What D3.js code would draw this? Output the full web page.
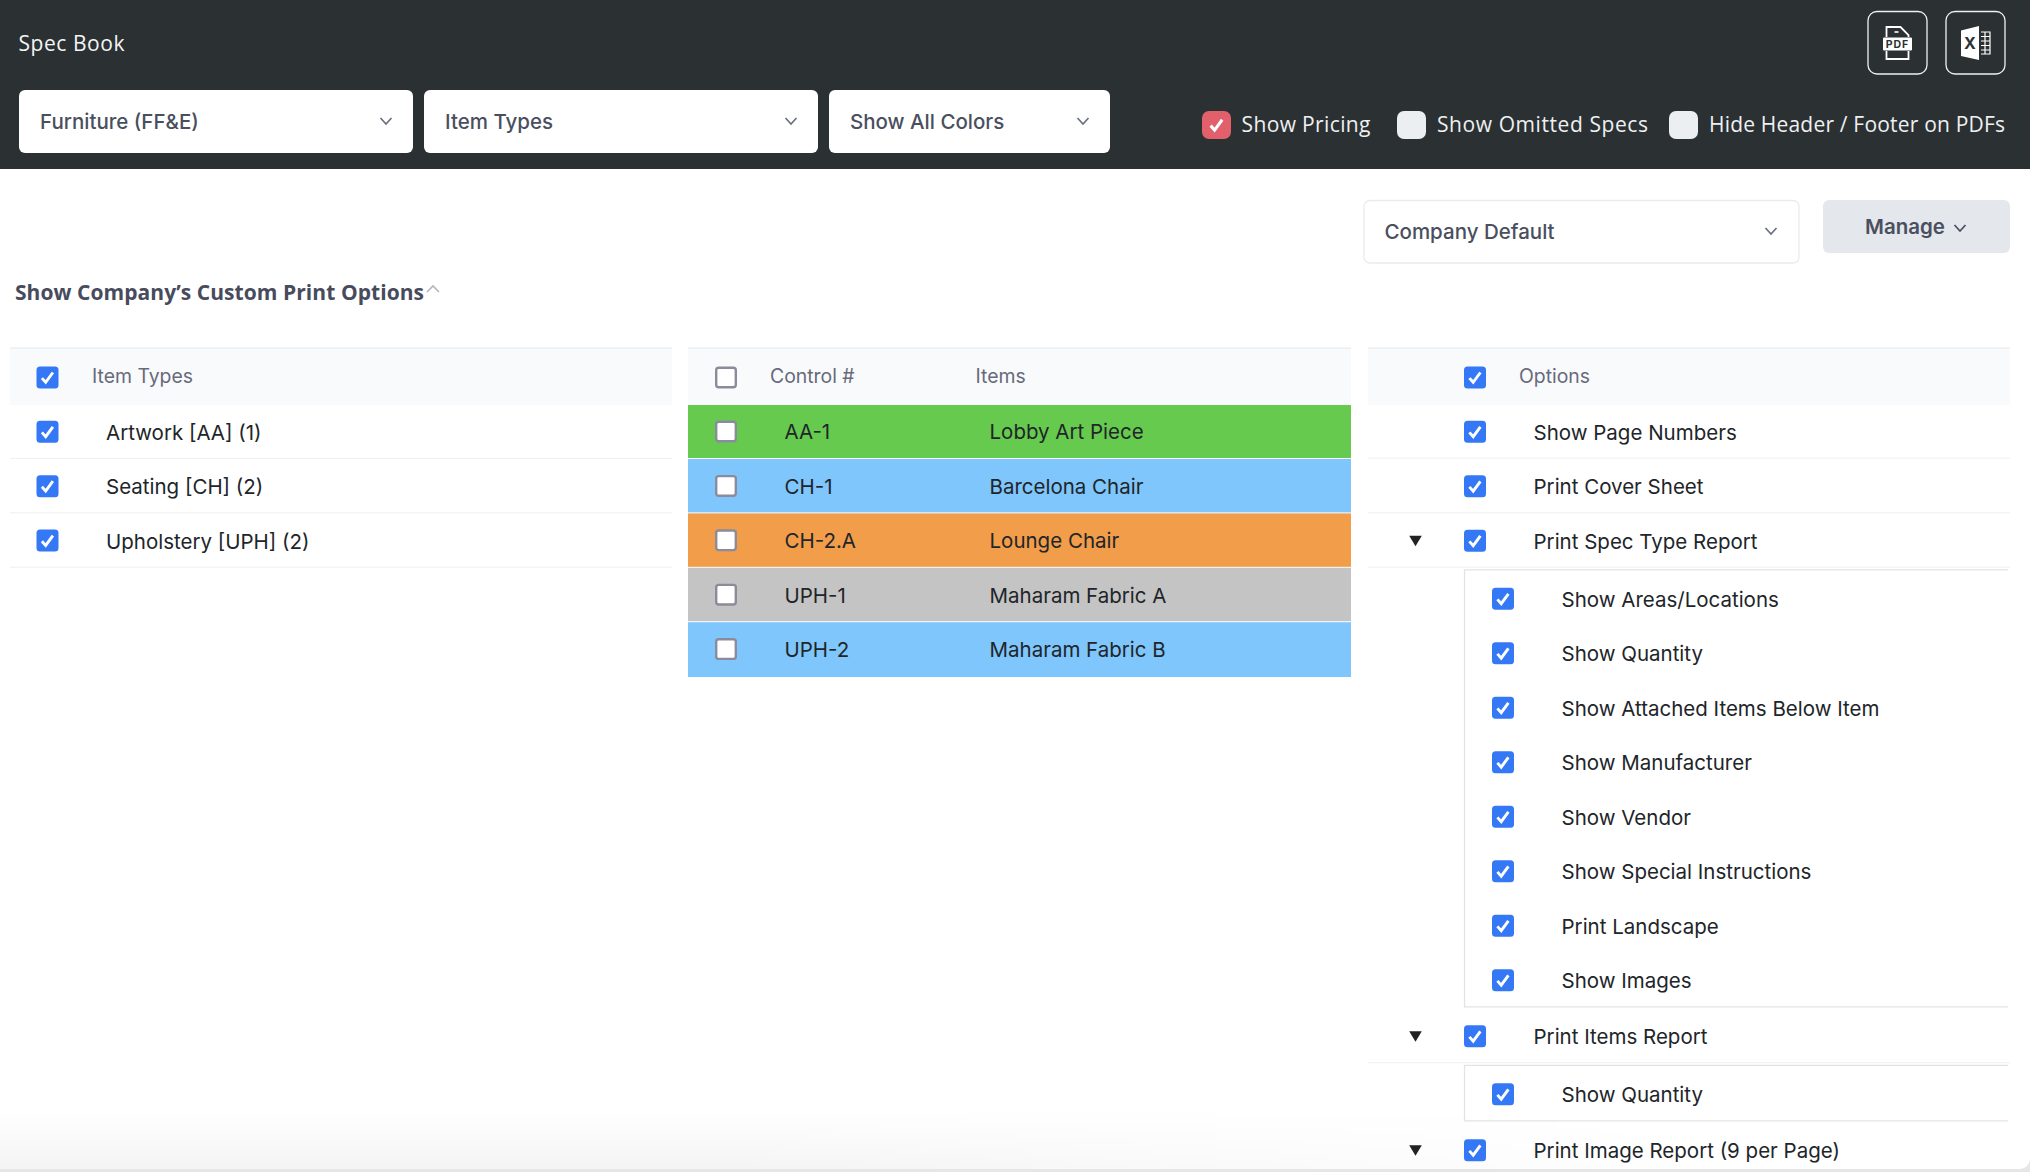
<!DOCTYPE html>
<html><head><meta charset="utf-8">
<script src="https://cdnjs.cloudflare.com/ajax/libs/d3/7.8.5/d3.min.js"></script>
<style>html,body{margin:0;padding:0;background:#fff;overflow:hidden}svg{display:block}
text{font-family:Inter,sans-serif;dominant-baseline:central}</style></head><body>
<script>
// ---- data ----
const pageTitle = "Spec Book";
const topSelects = ["Furniture (FF&E)", "Item Types", "Show All Colors"];
const toggles = ["Show Pricing", "Show Omitted Specs", "Hide Header / Footer on PDFs"];
const toggleChecked = [true, false, false];
const presetLabel = "Company Default";
const manageLabel = "Manage";
const sectionTitle = "Show Company’s Custom Print Options";
const itemTypeHeader = "Item Types";
const itemTypes = ["Artwork [AA] (1)", "Seating [CH] (2)", "Upholstery [UPH] (2)"];
const controlHeader = "Control #";
const itemsHeader = "Items";
const controlNumbers = ["AA-1", "CH-1", "CH-2.A", "UPH-1", "UPH-2"];
const itemNames = ["Lobby Art Piece", "Barcelona Chair", "Lounge Chair", "Maharam Fabric A", "Maharam Fabric B"];
const itemColors = ["#66ca4f", "#7ec6fb", "#f19d4a", "#c4c4c4", "#7ec6fb"];
const optionsHeader = "Options";
const optionLabels = ["Show Page Numbers", "Print Cover Sheet", "Print Spec Type Report",
  "Show Areas/Locations", "Show Quantity", "Show Attached Items Below Item", "Show Manufacturer",
  "Show Vendor", "Show Special Instructions", "Print Landscape", "Show Images",
  "Print Items Report", "Show Quantity", "Print Image Report (9 per Page)"];
const optionLevels = [0,0,0,1,1,1,1,1,1,1,1,0,1,0];
const optionExpandable = [false,false,true,false,false,false,false,false,false,false,false,true,false,true];

// ---- drawing ----
const W = 2030, H = 1172;
const svg = d3.select("body").append("svg").attr("width", W).attr("height", H).attr("viewBox", `0 0 ${W} ${H}`);
const POP = "'Open Sans',Lato,sans-serif";
const defs = svg.append("defs");
const g1 = defs.append("linearGradient").attr("id","fade").attr("x1",0).attr("x2",0).attr("y1",0).attr("y2",1);
g1.append("stop").attr("offset",0).attr("stop-color","#000").attr("stop-opacity",0);
g1.append("stop").attr("offset",1).attr("stop-color","#000").attr("stop-opacity",0.045);
const g2 = defs.append("linearGradient").attr("id","fadeX");
g2.append("stop").attr("offset",0).attr("stop-color","#fff");
g2.append("stop").attr("offset",0.35).attr("stop-color","#fff");
g2.append("stop").attr("offset",0.85).attr("stop-color","#000");
const mask = defs.append("mask").attr("id","fadeMask");
mask.append("rect").attr("x",0).attr("y",1100).attr("width",W).attr("height",72).attr("fill","url(#fadeX)");

function label(parent, x, y, str, o = {}) {
  const t = parent.append("text").attr("x", x).attr("y", y).text(str)
    .attr("font-size", o.size || 20.5).attr("fill", o.fill || "#212529")
    .attr("font-weight", o.weight || 400)
    .style("font-family", o.family || null)
    .style("letter-spacing", o.ls || null);
  if (o.fit) t.attr("textLength", o.fit).attr("lengthAdjust", "spacing");
  return t;
}
function chevron(parent, cx, cy, w = 11, h = 6, color = "#6b7080") {
  parent.append("path").attr("d", `M${cx-w/2},${cy-h/2}L${cx},${cy+h/2}L${cx+w/2},${cy-h/2}`)
    .attr("fill","none").attr("stroke",color).attr("stroke-width",1.7);
}
function tick(parent, cx, cy, s = 1) {
  parent.append("path")
    .attr("d", `M${cx-5.6*s},${cy+0.6*s}L${cx-1.8*s},${cy+4.8*s}L${cx+5.4*s},${cy-5*s}`)
    .attr("fill","none").attr("stroke","#fff").attr("stroke-width",2.9*s);
}
function checkbox(parent, cx, cy, checked) {
  if (checked) {
    parent.append("rect").attr("x",cx-11).attr("y",cy-11).attr("width",22).attr("height",22).attr("rx",3.5).attr("fill","#3578f6");
    tick(parent, cx, cy);
  } else {
    parent.append("rect").attr("x",cx-9.8).attr("y",cy-9.8).attr("width",19.6).attr("height",19.6).attr("rx",2.5)
      .attr("fill","#fff").attr("stroke","#8a8b9c").attr("stroke-width",2.4);
  }
}
function triangle(parent, cx, cy) {
  parent.append("path").attr("d", `M${cx-6.3},${cy-5}H${cx+6.3}L${cx},${cy+5.5}Z`).attr("fill","#222");
}

// page frame
svg.append("rect").attr("width",W).attr("height",H).attr("fill","#e6e6e6");
svg.append("path").attr("d",`M0,0H${W}V${1169-12}Q${W},1169 ${W-12},1169H0Z`).attr("fill","#fff");
svg.append("rect").attr("x",0).attr("y",1110).attr("width",W).attr("height",59).attr("fill","url(#fade)").attr("mask","url(#fadeMask)");

// dark header
svg.append("rect").attr("width",W).attr("height",169).attr("fill","#2b3033");
label(svg, 18.5, 42.5, pageTitle, {fill:"#f4f5f6", family:POP, size:21, fit:106});

const selectX = d3.scaleOrdinal().domain(topSelects).range([19, 424, 829]);
const selectW = d3.scaleOrdinal().domain(topSelects).range([394, 394, 281]);
topSelects.forEach(s => {
  const x = selectX(s), w = selectW(s);
  svg.append("rect").attr("x",x).attr("y",90).attr("width",w).attr("height",63).attr("rx",6).attr("fill","#fff");
  label(svg, x+21, 121.5, s, {size:20.5, weight:500, fill:"#4a4f60"});
  chevron(svg, x+w-27, 121);
});

// export buttons
[1868, 1946].forEach(x => svg.append("rect").attr("x",x).attr("y",11.5).attr("width",59).attr("height",62.5).attr("rx",9)
  .attr("fill","none").attr("stroke","#f0f0f0").attr("stroke-width",1.3));
const pdf = svg.append("g").attr("transform","translate(1897.5,43)");
pdf.append("path").attr("d","M-11,-6V-16H3L11,-8V-6M-11,8V16H11V8").attr("fill","none").attr("stroke","#fff").attr("stroke-width",1.8);
pdf.append("path").attr("d","M-3,-11H1").attr("stroke","#fff").attr("stroke-width",1.6);
pdf.append("rect").attr("x",-14.5).attr("y",-5.5).attr("width",29).attr("height",13).attr("rx",1).attr("fill","#fff");
label(pdf, 0, 1, "PDF", {size:10.5, weight:700, fill:"#2b3033", ls:"1px"}).attr("text-anchor","middle");
const xl = svg.append("g").attr("transform","translate(1975,43)");
xl.append("path").attr("d","M-14,-12.5L4,-17V17L-14,13Z").attr("fill","#fff");
label(xl, -5.2, 0, "X", {size:16, weight:700, fill:"#2b3033"}).attr("text-anchor","middle");
xl.append("path").attr("d","M6,-11H15V11H6M6,-6.5H15M6,-2H15M6,2.5H15M6,7H15M10,-11V11").attr("fill","none").attr("stroke","#fff").attr("stroke-width",1.2);

// toggles
const toggleBoxX = [1202, 1397, 1669], toggleTextX = [1241.5, 1437, 1709], toggleTextW = [129, 211, 296];
toggles.forEach((t,i) => {
  svg.append("rect").attr("x",toggleBoxX[i]).attr("y",111).attr("width",29).attr("height",28).attr("rx",7)
    .attr("fill", toggleChecked[i] ? "#e1606c" : "#eceff2");
  if (toggleChecked[i]) tick(svg, toggleBoxX[i]+14.5, 125, 1.05);
  label(svg, toggleTextX[i], 123.5, t, {fill:"#eef0f2", family:POP, size:21, fit:toggleTextW[i]});
});

// preset + manage
svg.append("rect").attr("x",1364).attr("y",200.5).attr("width",435).attr("height",62.5).attr("rx",6).attr("fill","#fff").attr("stroke","#e9ecef").attr("stroke-width",1.3);
label(svg, 1384.5, 231.5, presetLabel, {size:20.5, weight:500, fill:"#4a4f60"});
chevron(svg, 1771, 231);
svg.append("rect").attr("x",1823).attr("y",200).attr("width",187).attr("height",53).attr("rx",6).attr("fill","#e4e7eb");
label(svg, 1865, 226.5, manageLabel, {size:20.5, weight:600, fill:"#4a4f60"});
chevron(svg, 1960, 228, 11, 6, "#4a4f60");

// section heading
label(svg, 15, 291.5, sectionTitle, {size:21, weight:700, fill:"#474b5c", family:POP, fit:409});
chevron(svg, 433, 289, 12, -6, "#b5b6c2");

// tables
const rowBand = d3.scaleBand().domain(d3.range(5)).range([404.6, 676.6]);
const rowMid = i => rowBand(i) + rowBand.bandwidth()/2;

function tableHead(x, w) {
  svg.append("rect").attr("x",x).attr("y",348).attr("width",w).attr("height",57).attr("fill","#f9fafb");
  svg.append("rect").attr("x",x).attr("y",347.5).attr("width",w).attr("height",1.2).attr("fill","#e9ecef");
}
const head = {size:19.4, fill:"#676a7c"};

// item types
tableHead(10, 662);
checkbox(svg, 47.5, 377.5, true);
label(svg, 92, 376, itemTypeHeader, head);
itemTypes.forEach((t,i) => {
  checkbox(svg, 47.5, rowMid(i), true);
  label(svg, 106, rowMid(i)+0.5, t);
  svg.append("rect").attr("x",10).attr("y",rowBand(i)+rowBand.bandwidth()-1.2).attr("width",662).attr("height",1.2).attr("fill","#f1f2f4");
});

// items
tableHead(688, 663);
checkbox(svg, 726, 377.5, false);
label(svg, 770, 376, controlHeader, head);
label(svg, 975.5, 376, itemsHeader, head);
controlNumbers.forEach((c,i) => {
  const last = i === controlNumbers.length - 1;
  svg.append("rect").attr("x",688).attr("y",rowBand(i)+(i?0:0.4)).attr("width",663)
    .attr("height",rowBand.bandwidth()-(last?-0.4:1)-(i?0:0.4)).attr("fill",itemColors[i]);
  checkbox(svg, 726, rowMid(i)-0.3, false);
  label(svg, 784.5, rowMid(i), c);
  label(svg, 989.5, rowMid(i), itemNames[i]);
});

// options
tableHead(1368, 642);
checkbox(svg, 1475, 377.5, true);
label(svg, 1519, 376, optionsHeader, head);
const rowPitch = 54.5;
let yCursor = 431.8;
const optionY = optionLabels.map((_,i) => {
  if (i) yCursor += rowPitch + (optionLevels[i] > optionLevels[i-1] ? 3.5 : optionLevels[i] < optionLevels[i-1] ? 1.5 : 0);
  return yCursor;
});
optionLabels.forEach((t,i) => {
  const sub = optionLevels[i] === 1, y = optionY[i];
  checkbox(svg, sub ? 1503 : 1475, y, true);
  label(svg, sub ? 1561.5 : 1533.5, y+0.5, t);
  if (optionExpandable[i]) triangle(svg, 1415.5, y);
  if (!sub && i < 13) svg.append("rect").attr("x",1368).attr("y",y+25.8).attr("width",642).attr("height",1.2).attr("fill","#f1f2f4");
});
// nested panels
function panel(first, last) {
  const top = optionY[first]-29, bottom = optionY[last]+26.5;
  svg.append("path").attr("d",`M2008,${top}H1464.5V${bottom}H2008`).attr("fill","none").attr("stroke","#e3e3e3").attr("stroke-width",1.3);
}
panel(3,10); panel(12,12);
</script></body></html>
